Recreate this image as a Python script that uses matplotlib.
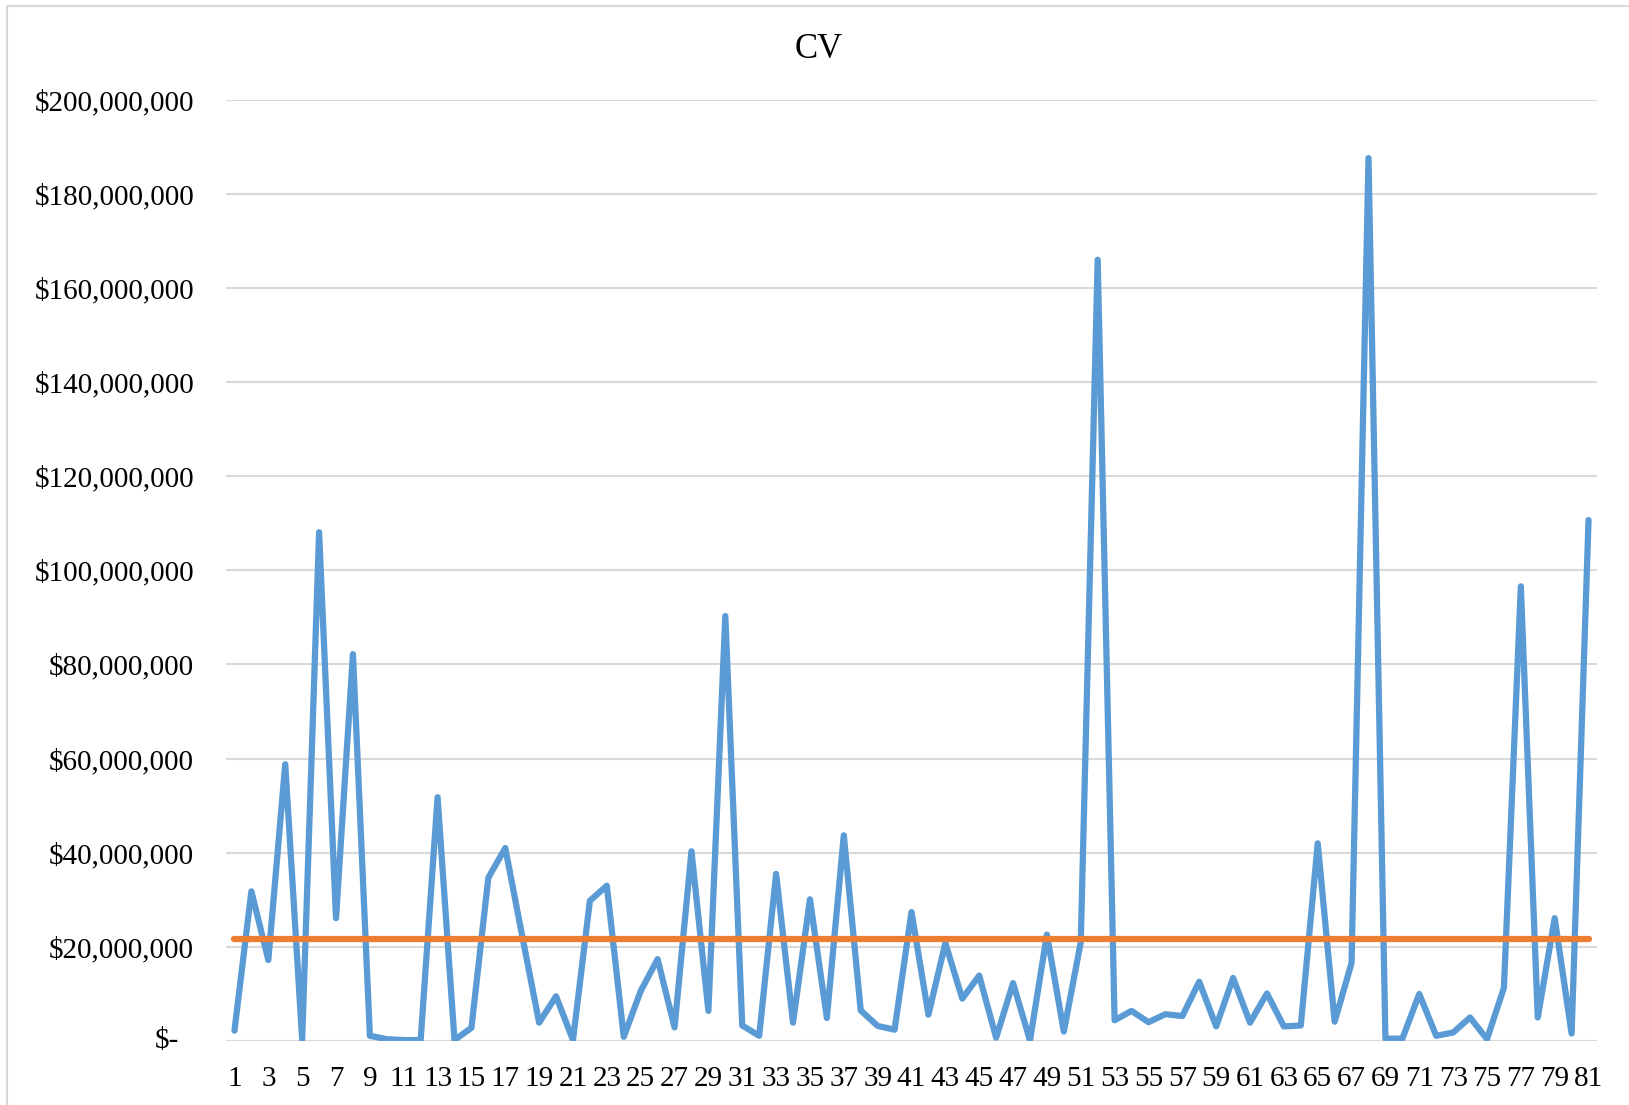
import matplotlib
matplotlib.use("Agg")
import matplotlib.pyplot as plt
from matplotlib.ticker import FixedLocator, FuncFormatter
from matplotlib.patches import Rectangle
from matplotlib.transforms import blended_transform_factory

# ---------------- data ----------------
categories = list(range(1, 82))
cv_values = [
    2.2, 31.8, 17.2, 58.8, 0.3, 108.1, 26.1, 82.2, 1.1, 0.4,
    0.2, 0.2, 51.8, 0.2, 2.8, 34.7, 41.0, 22.3, 3.9, 9.5,
    0.2, 29.8, 33.0, 0.9, 10.6, 17.4, 2.9, 40.3, 6.4, 90.3,
    3.3, 1.1, 35.5, 3.9, 30.1, 4.9, 43.7, 6.5, 3.2, 2.4,
    27.4, 5.6, 20.8, 9.0, 13.9, 0.7, 12.3, 0.1, 22.6, 2.0,
    21.0, 166.0, 4.4, 6.4, 4.0, 5.7, 5.3, 12.6, 3.1, 13.4,
    3.9, 10.1, 3.1, 3.3, 42.0, 4.1, 16.6, 187.6, 0.5, 0.5,
    10.0, 1.1, 1.8, 5.0, 0.4, 11.3, 96.6, 5.0, 26.1, 1.6,
    110.7,
]  # millions of dollars
cv_values = [v * 1e6 for v in cv_values]
average_value = 21.6e6
y_ticks = [0, 20e6, 40e6, 60e6, 80e6, 100e6, 120e6, 140e6, 160e6, 180e6, 200e6]
x_tick_labels = [str(c) for c in categories if c % 2 == 1]
title = "CV"

# ---------------- style ----------------
plt.rcParams['font.family'] = ['Liberation Serif', 'DejaVu Serif']
W, H = 1629, 1105
fig = plt.figure(figsize=(W / 100, H / 100), dpi=100)
fig.patch.set_facecolor("white")

# chart-area border (top and left visible)
fig.patches.append(Rectangle((7 / W, -0.1), 1.2, 1 - 6 / H + 0.1,
                             transform=fig.transFigure, fill=False,
                             edgecolor="#d9d9d9", linewidth=1.5))

left, right = 226 / W, 1597 / W
bottom, top = (H - 1041) / H, (H - 99.7) / H
ax = fig.add_axes([left, bottom, right - left, top - bottom])

blue = "#5b9bd5"
orange = "#ed7d31"

ax.plot(categories, cv_values, color=blue, linewidth=4.5,
        solid_joinstyle="round", solid_capstyle="round", zorder=3)
ax.plot(categories, [average_value] * len(categories), color=orange,
        linewidth=4.5, solid_capstyle="round", zorder=4)

ax.set_xlim(0.5, 81.5)
ax.set_ylim(0, 200e6)

ax.yaxis.set_major_locator(FixedLocator(y_ticks))
ax.yaxis.set_major_formatter(FuncFormatter(
    lambda v, p: "" if v == 0 else "${:,.0f}".format(v)))
odd_cats = [c for c in categories if c % 2 == 1]
ax.xaxis.set_major_locator(FixedLocator(odd_cats))
ax.set_xticklabels(x_tick_labels)

ax.grid(axis="y", color="#d9d9d9", linewidth=1.5, zorder=0)
ax.set_axisbelow(True)
for s in ax.spines.values():
    s.set_visible(False)
ax.tick_params(axis="both", length=0, labelsize=21, colors="black")
ax.tick_params(axis="y", pad=23)
ax.tick_params(axis="x", pad=18)

# "$-" zero label (accounting format, slightly inset)
trans = blended_transform_factory(ax.transAxes, ax.transData)
ax.annotate("$-", xy=(0, 0), xycoords=trans, xytext=(-34, 0),
            textcoords="offset points", ha="right", va="center",
            fontsize=21, color="black")

fig.text(819 / W, 1 - 50 / H, title, ha="center", va="center",
         fontsize=25, color="black")

fig.savefig("out.png", dpi=100, facecolor="white")
